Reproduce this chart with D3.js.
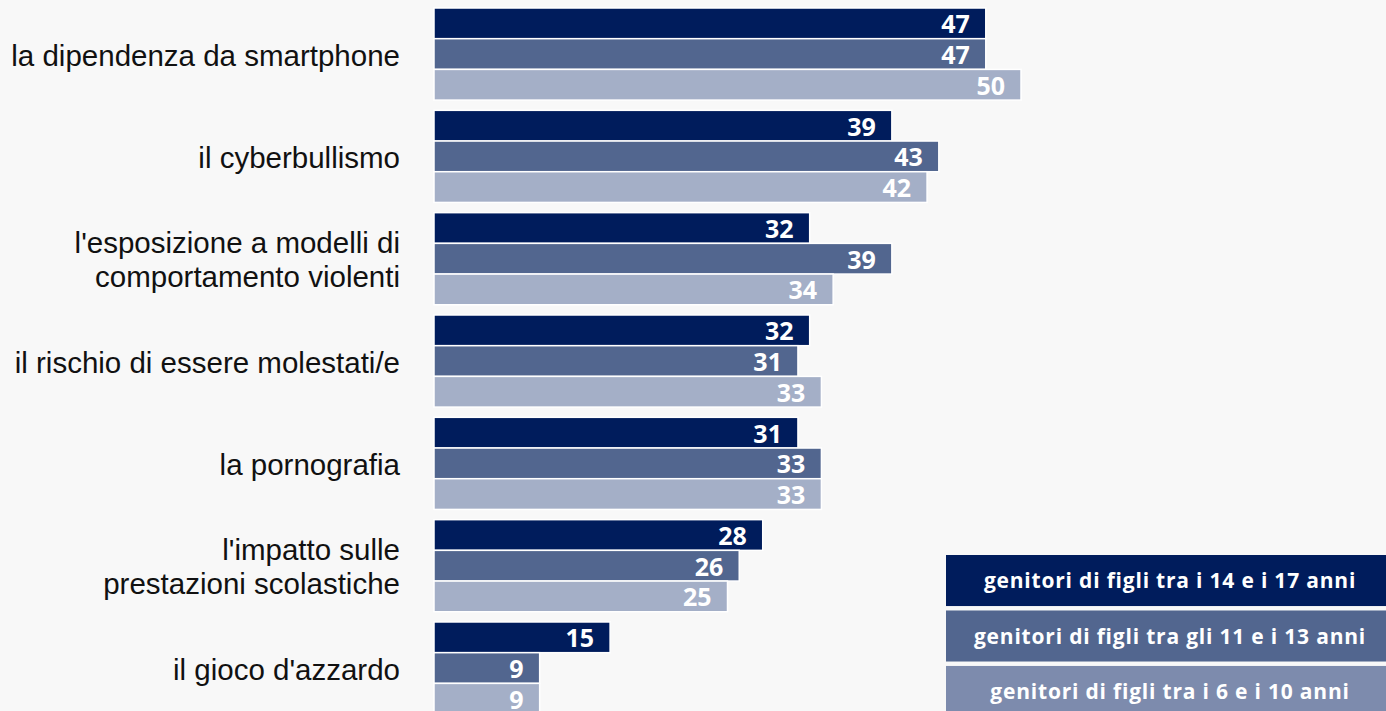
<!DOCTYPE html>
<html><head><meta charset="utf-8">
<script src="https://cdn.jsdelivr.net/npm/d3@7"></script>
<style>
html,body{margin:0;padding:0;background:#f8f8f8;overflow:hidden}
</style></head>
<body>
<svg id="c" width="1386" height="711"></svg>
<script>
const categories = [
  ["la dipendenza da smartphone"],
  ["il cyberbullismo"],
  ["l'esposizione a modelli di","comportamento violenti"],
  ["il rischio di essere molestati/e"],
  ["la pornografia"],
  ["l'impatto sulle","prestazioni scolastiche"],
  ["il gioco d'azzardo"]
];
const seriesNames = [
  "genitori di figli tra i 14 e i 17 anni",
  "genitori di figli tra gli 11 e i 13 anni",
  "genitori di figli tra i 6 e i 10 anni"
];
const s14_17 = [47, 39, 32, 32, 31, 28, 15];
const s11_13 = [47, 43, 39, 31, 33, 26, 9];
const s6_10  = [50, 42, 34, 33, 33, 25, 9];
const barColors = ["#001c5c", "#52668f", "#a4afc7"];
const legendColors = ["#001c5c", "#52668f", "#7d8bad"];

const svg = d3.select("#c");
svg.append("rect").attr("width",1386).attr("height",711).attr("fill","#f8f8f8");

const series = [s14_17, s11_13, s6_10];
const keys = categories.map((c,i)=>i);
const step = 102.33;
const y = d3.scaleBand().domain(keys)
  .range([8 - 0.05*step, 8 - 0.05*step + step*7])
  .paddingInner(0.1).paddingOuter(0.05);
const yi = d3.scaleBand().domain([0,1,2]).range([0, y.bandwidth()]);
const x = d3.scaleLinear().domain([0, 50]).range([434, 1021]);

const g = svg.append("g");
keys.forEach(i => {
  const gg = g.append("g");
  series.forEach((s, j) => {
    const by = y(i) + yi(j);
    gg.append("rect")
      .attr("x", x(0)).attr("y", by)
      .attr("width", x(s[i]) - x(0)).attr("height", yi.bandwidth())
      .attr("fill", barColors[j]).attr("stroke", "#fff").attr("stroke-width", 1.5);
    gg.append("text")
      .attr("x", x(s[i]) - 16).attr("y", by + yi.bandwidth()/2)
      .attr("dy", "0.4em").attr("text-anchor", "end")
      .attr("fill", "#fff").attr("font-family", "'Open Sans', sans-serif")
      .attr("font-weight", 700).attr("font-size", 25)
      .text(s[i]);
  });
  const lines = categories[i];
  const cy = y(i) + y.bandwidth()/2;
  const lh = 34.5;
  lines.forEach((ln, k) => {
    g.append("text")
      .attr("x", 400).attr("y", cy + (k - (lines.length-1)/2)*lh)
      .attr("dy", "0.39em").attr("text-anchor", "end")
      .attr("fill", "#111").attr("font-family", "'Liberation Sans', Arial, sans-serif")
      .attr("font-size", 29.5).text(ln);
  });
});

const legY = d3.scaleBand().domain([0,1,2]).range([555, 555 + 3*54]).paddingInner(0.08);
const lg = svg.append("g");
seriesNames.forEach((n, j) => {
  lg.append("rect").attr("x", 946).attr("y", legY(j))
    .attr("width", 448).attr("height", legY.bandwidth())
    .attr("fill", legendColors[j]);
  lg.append("text").attr("x", 1170).attr("y", legY(j) + legY.bandwidth()/2)
    .attr("dy", "0.36em").attr("text-anchor", "middle")
    .attr("fill", "#fff").attr("font-family", "'Open Sans', sans-serif")
    .attr("font-weight", 700).attr("font-size", 21).attr("letter-spacing", 0.8).text(n);
});
</script>
</body></html>
